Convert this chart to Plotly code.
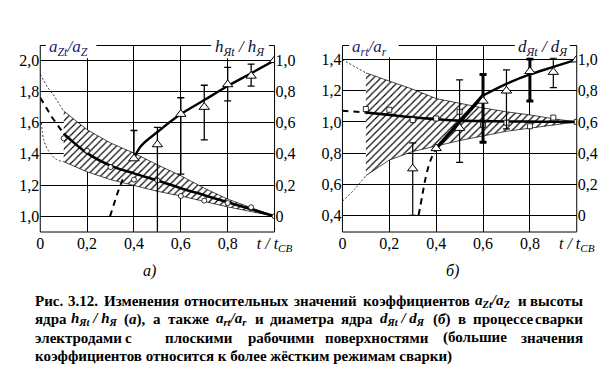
import plotly.graph_objects as go

W, H = 615, 377
def px(x): return x / W
def py(y): return 1 - y / H

SERIF = "Liberation Serif, Times New Roman, serif"

# ---------------- Panel a) data ----------------
a_x = [0.1, 0.2, 0.3, 0.4, 0.5, 0.6, 0.7, 0.8, 0.9, 1.0]
aZ_upper = [1.675, 1.555, 1.47, 1.405, 1.33, 1.26, 1.18, 1.11, 1.055, 1.0]
aZ_lower = [1.35, 1.285, 1.235, 1.195, 1.16, 1.13, 1.095, 1.06, 1.03, 1.0]
aZ_up_ext_x = [0.0, 0.03, 0.06, 0.1]
aZ_up_ext_y = [1.91, 1.83, 1.77, 1.675]
aZ_lo_ext_x = [0.005, 0.015, 0.035, 0.068, 0.1]
aZ_lo_ext_y = [1.60, 1.49, 1.42, 1.365, 1.35]
aZ_mean = [1.53, 1.405, 1.325, 1.275, 1.23, 1.18, 1.135, 1.09, 1.045, 1.0]
aZ_mean_ext_x = [0.0, 0.05, 0.1]
aZ_mean_ext_y = [1.76, 1.635, 1.53]
aZ_pts = [1.50, 1.42, 1.315, 1.235, 1.23, 1.13, 1.10, 1.085, 1.058, 1.0]

h_x = [0.4, 0.5, 0.6, 0.7, 0.8, 0.9, 1.0]
h_pts = [0.37, 0.46, 0.655, 0.70, 0.845, 0.90, 1.0]
h_err_x = [0.4, 0.5, 0.6, 0.7, 0.8, 0.9]
h_err_hi = [0.55, 0.57, 0.76, 0.84, 0.955, 0.975]
h_err_lo = [0.37, -0.2, 0.27, 0.49, 0.74, 0.835]
h_curve_x = [0.4, 0.43, 0.5, 0.6, 0.7, 0.8, 0.9, 1.0]
h_curve_y = [0.37, 0.45, 0.54, 0.655, 0.745, 0.835, 0.917, 1.0]
h_dash_x = [0.298, 0.33, 0.358]
h_dash_y = [0.0, 0.15, 0.26]

# ---------------- Panel b) data ----------------
b_x = [0.1, 0.2, 0.3, 0.4, 0.5, 0.6, 0.7, 0.8, 0.9, 1.0]
ar_upper = [1.315, 1.265, 1.21, 1.15, 1.12, 1.09, 1.065, 1.045, 1.02, 1.0]
ar_lower = [0.655, 0.755, 0.81, 0.845, 0.88, 0.91, 0.94, 0.96, 0.98, 1.0]
ar_up_ext_x = [0.0, 0.1]
ar_up_ext_y = [1.40, 1.315]
ar_lo_ext_x = [0.0, 0.05, 0.1]
ar_lo_ext_y = [0.49, 0.565, 0.655]
ar_mean = [1.06, 1.045, 1.03, 1.018, 1.008, 1.005, 1.003, 1.002, 1.001, 1.0]
ar_mean_ext_x = [0.0, 0.1]
ar_mean_ext_y = [1.072, 1.06]
ar_pts = [1.083, 1.078, 1.012, 1.022, 1.065, 0.98, 0.995, 0.972, 1.028, 1.0]

d_x = [0.3, 0.4, 0.5, 0.6, 0.7, 0.8, 0.9, 1.0]
d_pts = [0.30, 0.43, 0.56, 0.735, 0.80, 0.925, 0.92, 1.0]
d_err_x = [0.3, 0.5, 0.7, 0.9]
d_err_hi = [0.465, 0.87, 0.935, 1.01]
d_err_lo = [0.0, 0.34, 0.555, 0.82]
d_err_thick_x = [0.6, 0.8]
d_err_thick_hi = [0.905, 1.005]
d_err_thick_lo = [0.47, 0.735]
d_steep_x = [0.4, 0.5, 0.6]
d_steep_y = [0.43, 0.60, 0.77]
d_curve_x = [0.6, 0.7, 0.8, 0.9, 1.0]
d_curve_y = [0.77, 0.845, 0.905, 0.953, 1.0]
d_dash_x = [0.325, 0.34, 0.355, 0.375, 0.4]
d_dash_y = [0.0, 0.12, 0.24, 0.35, 0.43]

# ---------------- tick labels ----------------
x_ticks = [0, 0.2, 0.4, 0.6, 0.8, 1.0]
x_ticktext = ["0", "0,2", "0,4", "0,6", "0,8", "<i>t / t</i><sub><i>CB</i></sub>"]
ya_ticks = [1.0, 1.2, 1.4, 1.6, 1.8, 2.0]
ya_ticktext = ["1,0", "1,2", "1,4", "1,6", "1,8", "2,0"]
yb_ticks = [0.4, 0.6, 0.8, 1.0, 1.2, 1.4]
yb_ticktext = ["0,4", "0,6", "0,8", "1,0", "1,2", "1,4"]
yr_ticks = [0, 0.2, 0.4, 0.6, 0.8, 1.0]
yr_ticktext = ["0", "0,2", "0,4", "0,6", "0,8", "1,0"]

# ---------------- caption ----------------
F_AZ = "<i>a<sub>Zt</sub>/a<sub>Z</sub></i>"
F_H = "<i>h<sub>Яt</sub> / h<sub>Я</sub></i>"
F_AR = "<i>a<sub>rt</sub>/a<sub>r</sub></i>"
F_D = "<i>d<sub>Яt</sub> / d<sub>Я</sub></i>"
CAP_LINE1 = ["Рис.", "3.12.", "Изменения", "относительных", "значений", "коэффициентов", F_AZ, "и", "высоты"]
CAP_LINE2 = ["ядра", F_H, "(<i>а</i>),", "а", "также", F_AR, "и", "диаметра", "ядра", F_D,
             "(<i>б</i>)", "в", "процессе", "сварки"]
CAP_LINE3 = ["электродами", "с", "плоскими", "рабочими", "поверхностями", "(большие", "значения"]
CAP_LINE3_CENTERS = [None, 121, 194, 280, 378.5, 480, None]
CAP_LINE4 = "коэффициентов относится к более жёстким режимам сварки)"

# approximate glyph widths (em) used only for justifying the caption lines
CW = {"а": .50, "б": .50, "в": .52, "г": .43, "д": .54, "е": .44, "ё": .44, "ж": .85, "з": .42,
      "и": .58, "й": .58, "к": .54, "л": .56, "м": .70, "н": .58, "о": .50, "п": .58, "р": .56,
      "с": .44, "т": .48, "у": .50, "ф": .70, "х": .50, "ц": .58, "ч": .56, "ш": .82, "щ": .82,
      "ы": .76, "ь": .52, "э": .44, "ю": .76, "я": .54, "Р": .61, "И": .78, ".": .25, ",": .25,
      "(": .33, ")": .33, "1": .5, "2": .5, "3": .5}
SPECIAL_W = {F_AZ: 2.35, F_H: 3.1, F_AR: 2.05, F_D: 3.1, "(<i>а</i>),": 1.41, "(<i>б</i>)": 1.16}

fig = go.Figure()
HATCH = dict(shape="/", size=5, solidity=0.22, fgcolor="black", bgcolor="white", fillmode="replace")

def add_panel(xa, ya, bx, up, lo, upx, upy, lox, loy, mean, mx, my, pts, psym):
    fig.add_trace(go.Scatter(x=bx, y=lo, mode="lines", line=dict(color="black", width=0.7),
                             xaxis=xa, yaxis=ya, hoverinfo="skip"))
    fig.add_trace(go.Scatter(x=bx, y=up, mode="lines", fill="tonexty", fillpattern=HATCH,
                             line=dict(color="black", width=0.7), xaxis=xa, yaxis=ya, hoverinfo="skip"))
    fig.add_trace(go.Scatter(x=upx, y=upy, mode="lines", line=dict(color="black", width=0.8, dash="2px,2px"),
                             xaxis=xa, yaxis=ya))
    fig.add_trace(go.Scatter(x=lox, y=loy, mode="lines",
                             line=dict(color="black", width=0.8, dash="2px,2px", shape="spline"),
                             xaxis=xa, yaxis=ya))
    fig.add_trace(go.Scatter(x=bx, y=mean, mode="lines", line=dict(color="black", width=2.6, shape="spline"),
                             xaxis=xa, yaxis=ya))
    fig.add_trace(go.Scatter(x=mx, y=my, mode="lines", line=dict(color="black", width=2, dash="6px,5px"),
                             xaxis=xa, yaxis=ya))
    fig.add_trace(go.Scatter(x=bx, y=pts, mode="markers",
                             marker=dict(symbol=psym, size=5, color="white", line=dict(color="black", width=0.8)),
                             xaxis=xa, yaxis=ya))

add_panel("x", "y", a_x, aZ_upper, aZ_lower, aZ_up_ext_x, aZ_up_ext_y, aZ_lo_ext_x, aZ_lo_ext_y,
          aZ_mean, aZ_mean_ext_x, aZ_mean_ext_y, aZ_pts, "circle")
add_panel("x2", "y2", b_x, ar_upper, ar_lower, ar_up_ext_x, ar_up_ext_y, ar_lo_ext_x, ar_lo_ext_y,
          ar_mean, ar_mean_ext_x, ar_mean_ext_y, ar_pts, "square")

def err_trace(x, mid, hi, lo, xa, ya, thick):
    fig.add_trace(go.Scatter(
        x=x, y=mid, mode="markers", marker=dict(size=1, color="rgba(0,0,0,0)"),
        error_y=dict(type="data", symmetric=False,
                     array=[h - m for h, m in zip(hi, mid)],
                     arrayminus=[m - l for m, l in zip(mid, lo)],
                     color="black", thickness=thick, width=3.5),
        xaxis=xa, yaxis=ya))

fig.add_trace(go.Scatter(x=h_dash_x, y=h_dash_y, mode="lines", line=dict(color="black", width=2, dash="6px,5px"),
                         xaxis="x", yaxis="y3"))
fig.add_trace(go.Scatter(x=h_curve_x, y=h_curve_y, mode="lines", line=dict(color="black", width=2.4, shape="spline"),
                         xaxis="x", yaxis="y3"))
h_err_mid = [h_pts[h_x.index(v)] for v in h_err_x]
err_trace(h_err_x, h_err_mid, h_err_hi, h_err_lo, "x", "y3", 1.3)
fig.add_trace(go.Scatter(x=h_x, y=h_pts, mode="markers",
                         marker=dict(symbol="triangle-up", size=9, color="white", line=dict(color="black", width=1)),
                         xaxis="x", yaxis="y3"))

fig.add_trace(go.Scatter(x=d_dash_x, y=d_dash_y, mode="lines",
                         line=dict(color="black", width=2, dash="6px,5px", shape="spline"),
                         xaxis="x2", yaxis="y4"))
fig.add_trace(go.Scatter(x=d_steep_x, y=d_steep_y, mode="lines", line=dict(color="black", width=3.6),
                         xaxis="x2", yaxis="y4"))
fig.add_trace(go.Scatter(x=d_curve_x, y=d_curve_y, mode="lines", line=dict(color="black", width=2.4, shape="spline"),
                         xaxis="x2", yaxis="y4"))
d_err_mid = [d_pts[d_x.index(v)] for v in d_err_x]
err_trace(d_err_x, d_err_mid, d_err_hi, d_err_lo, "x2", "y4", 1.2)
d_err_thick_mid = [d_pts[d_x.index(v)] for v in d_err_thick_x]
err_trace(d_err_thick_x, d_err_thick_mid, d_err_thick_hi, d_err_thick_lo, "x2", "y4", 3)
fig.add_trace(go.Scatter(x=d_x, y=d_pts, mode="markers",
                         marker=dict(symbol="triangle-up", size=9, color="white", line=dict(color="black", width=1)),
                         xaxis="x2", yaxis="y4"))

TICKFONT = dict(family=SERIF, size=16, color="black")
common_x = dict(range=[0, 1], tickvals=x_ticks, ticktext=x_ticktext, showgrid=True, gridcolor="black",
                gridwidth=1.2, zeroline=False, showline=False, ticks="", tickfont=TICKFONT)
common_y = dict(showgrid=True, gridcolor="black", gridwidth=1.2, zeroline=False, showline=False,
                ticks="", tickfont=TICKFONT)
right_y = dict(side="right", tickvals=yr_ticks, ticktext=yr_ticktext, showgrid=False, zeroline=False,
               showline=False, ticks="", tickfont=TICKFONT)

YDOM = [py(224), py(37.5)]
fig.update_layout(
    width=W, height=H, margin=dict(l=0, r=0, t=0, b=0),
    paper_bgcolor="white", plot_bgcolor="white", showlegend=False,
    font=dict(family=SERIF, color="black"),
    xaxis=dict(domain=[px(29.3), px(272.3)], anchor="y", **common_x),
    yaxis=dict(domain=YDOM, anchor="x", range=[0.899, 2.095], tickvals=ya_ticks, ticktext=ya_ticktext, **common_y),
    yaxis3=dict(overlaying="y", anchor="x", range=[-0.101, 1.095], **right_y),
    xaxis2=dict(domain=[px(342.7), px(585.7)], anchor="y2", **common_x),
    yaxis2=dict(domain=YDOM, anchor="x2", range=[0.2927, 1.491], tickvals=yb_ticks, ticktext=yb_ticktext, **common_y),
    yaxis4=dict(overlaying="y2", anchor="x2", range=[-0.1073, 1.091], **right_y),
)

shapes = []
def line(x0, y0, x1, y1, w=1.0, color="black"):
    shapes.append(dict(type="line", xref="paper", yref="paper", x0=px(x0), y0=py(y0), x1=px(x1), y1=py(y1),
                       line=dict(color=color, width=w), layer="above"))
def wrect(x0, y0, x1, y1):
    shapes.append(dict(type="rect", xref="paper", yref="paper", x0=px(x0), y0=py(y0), x1=px(x1), y1=py(y1),
                       line=dict(width=0), fillcolor="white", layer="above"))

for (L, R) in [(29.3, 272.3), (342.7, 585.7)]:
    line(L, 37.5, L, 224)
    line(R, 37.5, R, 224)
    line(L, 224, R, 224)
    line(L, 37.5, R, 37.5)
wrect(35, 32, 87.5, 50.3)
wrect(206.5, 32, 266.5, 50.3)
wrect(349.5, 32, 401, 49.5)
wrect(521.5, 32, 578.5, 49.5)
fig.update_layout(shapes=shapes)

anns = []
def ann(x, y, text, size=15, xanchor="center", color="black"):
    anns.append(dict(x=px(x), y=py(y), xref="paper", yref="paper", text=text, showarrow=False,
                     xanchor=xanchor, yanchor="middle", align=xanchor if xanchor != "center" else "center",
                     font=dict(family=SERIF, size=size, color=color)))

LABEL_C = "#22226e"
ann(36, 40, "<i>a</i><sub><i>Zt</i></sub><i>/a</i><sub><i>Z</i></sub>", 17, "left", LABEL_C)
ann(208, 40, "<i>h</i><sub><i>Яt</i></sub><i> / h</i><sub><i>Я</i></sub>", 17, "left", "#10102a")
ann(351, 40, "<i>a</i><sub><i>rt</i></sub><i>/a</i><sub><i>r</i></sub>", 17, "left", LABEL_C)
ann(523, 40, "<i>d</i><sub><i>Яt</i></sub><i> / d</i><sub><i>Я</i></sub>", 17, "left", "#10102a")
ann(143, 263, "<i>а)</i>", 16)
ann(457, 263, "<i>б)</i>", 16)

CAP_Y = [293, 311, 329.5, 348]
CAP_SIZE = 15
CAP_L, CAP_R = 21.7, 594

def word_width(tok):
    if tok in SPECIAL_W:
        return SPECIAL_W[tok] * CAP_SIZE
    return sum(CW.get(c, 0.5) for c in tok) * CAP_SIZE

def justified(words, y):
    widths = [word_width(w) for w in words]
    gap = (CAP_R - CAP_L - sum(widths)) / (len(words) - 1)
    cur = CAP_L
    for i, (w, wd) in enumerate(zip(words, widths)):
        if i == 0:
            ann(CAP_L, y, "<b>" + w + "</b>", CAP_SIZE, "left")
        elif i == len(words) - 1:
            ann(CAP_R, y, "<b>" + w + "</b>", CAP_SIZE, "right")
        else:
            ann(cur + wd / 2, y, "<b>" + w + "</b>", CAP_SIZE, "center")
        cur += wd + gap

justified(CAP_LINE1, CAP_Y[0])
justified(CAP_LINE2, CAP_Y[1])
for i, (w, c) in enumerate(zip(CAP_LINE3, CAP_LINE3_CENTERS)):
    if i == 0:
        ann(CAP_L, CAP_Y[2], "<b>" + w + "</b>", CAP_SIZE, "left")
    elif i == len(CAP_LINE3) - 1:
        ann(CAP_R, CAP_Y[2], "<b>" + w + "</b>", CAP_SIZE, "right")
    else:
        ann(c, CAP_Y[2], "<b>" + w + "</b>", CAP_SIZE, "center")
ann(CAP_L, CAP_Y[3], "<b>" + CAP_LINE4 + "</b>", CAP_SIZE, "left")
fig.update_layout(annotations=anns)

# make sure every SVG text really uses the serif face
POST = """
(function(){
  var gd = document.getElementById('{plot_id}');
  function fix(){
    gd.querySelectorAll('text').forEach(function(t){
      t.style.setProperty('font-family', "'Liberation Serif', 'Times New Roman', serif", 'important');
    });
  }
  fix();
  setTimeout(fix, 30); setTimeout(fix, 200);
  if (gd.on) gd.on('plotly_afterplot', fix);
})();
"""

fig.write_html("out.html", post_script=POST)
